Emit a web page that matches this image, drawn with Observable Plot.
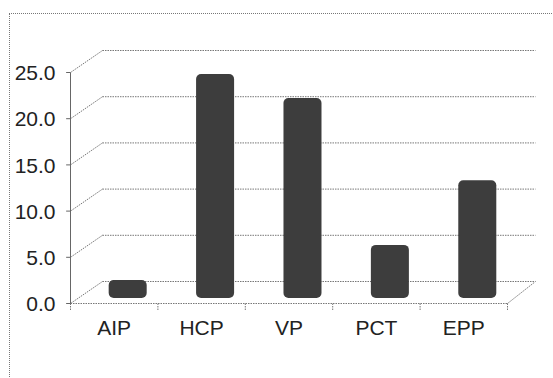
<!DOCTYPE html>
<html>
<head>
<meta charset="utf-8">
<script src="https://cdn.jsdelivr.net/npm/d3@7"></script>
<script src="https://cdn.jsdelivr.net/npm/@observablehq/plot@0.6"></script>
<style>
  html, body { margin: 0; padding: 0; background: #fff; }
  #frame {
    position: absolute; left: 9px; top: 13px;
    border-top: 1px dotted #777; border-left: 1px dotted #777;
    width: 544px; height: 365px;
  }
  #frame svg { display: block; }
</style>
</head>
<body>
<div id="frame"></div>
<script>
const categories = ["AIP", "HCP", "VP", "PCT", "EPP"];
const values = [1.3, 23.6, 21.0, 5.1, 12.1];
const yTicks = [0, 5, 10, 15, 20, 25];

// pseudo-3D depth geometry (data units)
const DX = 0.366;     // back wall horizontal shift
const DY = 2.38;      // back wall vertical shift
const BACK_RIGHT = 5.32;
const BAR_W = 0.435;
const BAR_SHIFT = 0.16;
const BAR_BASE = 0.54;
const BAR_LIFT = 1.19;

const rows = categories.map((c, i) => ({c, i, v: values[i]}));
const gridStyle = {stroke: "#777", strokeWidth: 1, strokeDasharray: "1.5,1"};

const chart = Plot.plot({
  width: 544,
  height: 365,
  marginLeft: 60,
  marginRight: 47,
  marginTop: 58,
  marginBottom: 76,
  x: {domain: [0, 5], axis: null},
  y: {domain: [0, 25], axis: null},
  style: {fontFamily: "'Liberation Sans', Arial, sans-serif", color: "#222", overflow: "visible"},
  marks: [
    // back wall gridlines (diagonal + horizontal)
    Plot.link(yTicks, {x1: 0, y1: d => d, x2: DX, y2: d => d + DY, ...gridStyle}),
    Plot.link(yTicks, {x1: DX, y1: d => d + DY, x2: BACK_RIGHT, y2: d => d + DY, ...gridStyle}),
    // floor
    Plot.link([0], {x1: 0, y1: 0, x2: 5, y2: 0, ...gridStyle}),
    Plot.link([0], {x1: 5, y1: 0, x2: BACK_RIGHT, y2: DY, ...gridStyle}),
    // category ticks below floor
    Plot.link(d3.range(6), {x1: d => d, x2: d => d, y1: 0, y2: -0.75, ...gridStyle}),
    // left axis
    Plot.link([0], {x1: 0, x2: 0, y1: 0, y2: 25, stroke: "#666", strokeWidth: 1}),
    Plot.link(yTicks, {x1: -0.05, x2: 0, y1: d => d, y2: d => d, stroke: "#666", strokeWidth: 1}),
    // bars (cylinders)
    Plot.rect(rows, {
      x1: d => d.i + 0.5 + BAR_SHIFT - BAR_W / 2,
      x2: d => d.i + 0.5 + BAR_SHIFT + BAR_W / 2,
      y1: BAR_BASE,
      y2: d => d.v + BAR_LIFT,
      fill: "#3d3d3d",
      rx: 5
    }),
    // y labels
    Plot.text(yTicks, {x: 0, y: d => d, text: d => d.toFixed(1), textAnchor: "end", dx: -15, dy: 1, fontSize: 21, fill: "#222"}),
    // x labels
    Plot.text(rows, {x: d => d.i + 0.5, y: 0, text: "c", dy: 25, fontSize: 21, fill: "#222"})
  ]
});
document.getElementById("frame").appendChild(chart);
</script>
</body>
</html>
